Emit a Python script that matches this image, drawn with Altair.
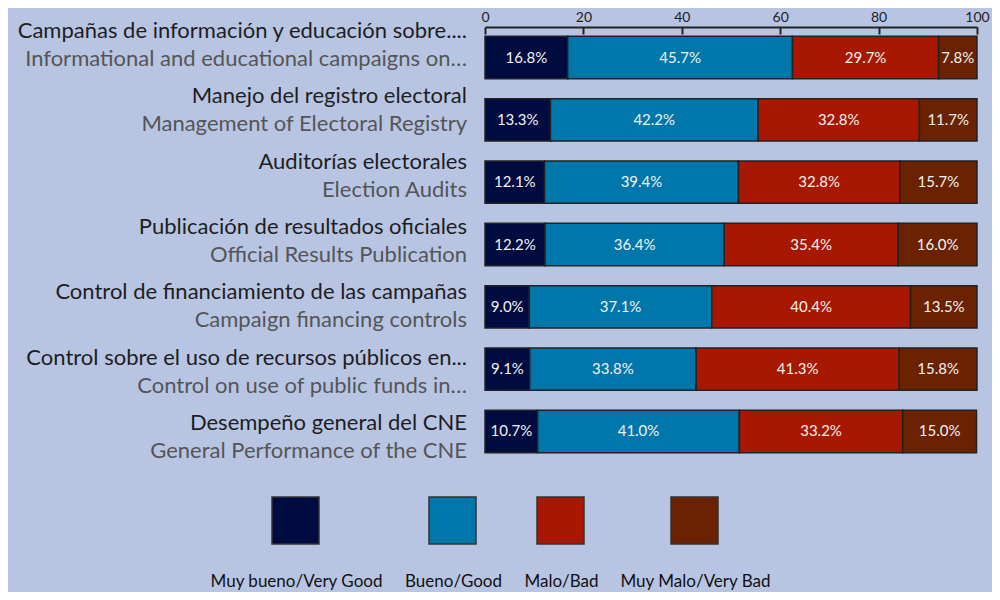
import altair as alt
import pandas as pd

questions_es = [
    "Campañas de información y educación sobre....",
    "Manejo del registro electoral",
    "Auditorías electorales",
    "Publicación de resultados oficiales",
    "Control de financiamiento de las campañas",
    "Control sobre el uso de recursos públicos en...",
    "Desempeño general del CNE",
]
questions_en = [
    "Informational and educational campaigns on…",
    "Management of Electoral Registry",
    "Election Audits",
    "Official Results Publication",
    "Campaign financing controls",
    "Control on use of public funds in…",
    "General Performance of the CNE",
]
categories = ["Muy bueno/Very Good", "Bueno/Good", "Malo/Bad", "Muy Malo/Very Bad"]
colors = ["#000b40", "#0077aa", "#a81800", "#6b2200"]

muy_bueno = [16.8, 13.3, 12.1, 12.2, 9.0, 9.1, 10.7]
bueno = [45.7, 42.2, 39.4, 36.4, 37.1, 33.8, 41.0]
malo = [29.7, 32.8, 32.8, 35.4, 40.4, 41.3, 33.2]
muy_malo = [7.8, 11.7, 15.7, 16.0, 13.5, 15.8, 15.0]

x_ticks = [0, 20, 40, 60, 80, 100]

# second key set (prefixed) so that the label legend is not merged with the swatch legend
categories_lbl = ["#" + c for c in categories]

series = [muy_bueno, bueno, malo, muy_malo]
rows = []
for qi, (qes, qen) in enumerate(zip(questions_es, questions_en)):
    for k, (cat, vals) in enumerate(zip(categories, series)):
        rows.append({"q": qes, "en": qen, "cat": cat, "cat2": "#" + cat, "k": k,
                     "value": vals[qi]})
df = pd.DataFrame(rows)

labels_df = pd.DataFrame({"q": questions_es, "en": questions_en})

FONT = "Lato"
LEG_FS = 17

base = alt.Chart(df).transform_stack(
    stack="value", groupby=["q"], as_=["x0", "x1"],
    sort=[alt.SortField("k", order="ascending")],
).transform_calculate(
    mid="(datum.x0 + datum.x1) / 2",
    lab="format(datum.value, '.1f') + '%'",
)

xscale = alt.Scale(domain=[0, 100], nice=False)
yband = alt.Y("q:N", sort=questions_es,
              scale=alt.Scale(paddingInner=0.32, paddingOuter=0.15),
              axis=alt.Axis(title=None, labels=False, ticks=False, domain=True,
                            domainColor="#222222", domainWidth=2))

common_leg = dict(orient="none", direction="horizontal", title=None,
                  symbolType="square", symbolSize=2209, symbolStrokeWidth=1.5,
                  labelAlign="center", labelOffset={"expr": "-23.5"},
                  labelBaseline="middle", labelFont=FONT, labelFontSize=LEG_FS,
                  labelColor="#111111", labelLimit=400, columnPadding=21, padding=0,
                  legendX=-214)

# bars + legend swatches (labels of this legend kept invisible, only for spacing)
bars = base.mark_bar(stroke="#222222", strokeWidth=1.5).encode(
    x=alt.X("x0:Q", scale=xscale,
            axis=alt.Axis(orient="top", values=x_ticks, title=None, ticks=False,
                          domain=True, domainColor="#222222", domainWidth=2,
                          labelFont=FONT, labelFontSize=14, labelColor="#222222",
                          labelPadding=3, labelFlush=False, grid=False)),
    x2="x1:Q",
    y=yband,
    fill=alt.Fill("cat:N", scale=alt.Scale(domain=categories, range=colors),
                  legend=alt.Legend(legendY=469, symbolStrokeColor="#333333",
                                    symbolOpacity=1, labelOpacity=0, **common_leg)),
)

# invisible layer whose legend carries the legend labels below the swatches
legend_labels = base.mark_bar(opacity=0).encode(
    x=alt.X("x0:Q", scale=xscale, axis=None),
    x2="x1:Q",
    y=alt.Y("q:N", sort=questions_es, axis=None),
    stroke=alt.Stroke("cat2:N", scale=alt.Scale(domain=categories_lbl, range=colors),
                      legend=alt.Legend(legendY=530, symbolOpacity=0,
                                        symbolStrokeColor="transparent",
                                        labelExpr="substring(datum.label, 1)",
                                        labelOpacity=1, **common_leg)),
)

values = base.mark_text(color="#f2f2f2", font=FONT, fontSize=15).encode(
    x=alt.X("mid:Q", scale=xscale,
            axis=alt.Axis(orient="top", values=x_ticks, title=None, labels=False,
                          domain=False, ticks=True, tickSize=7, tickWidth=2,
                          tickColor="#222222", offset=-7, grid=False)),
    y=alt.Y("q:N", sort=questions_es, axis=None),
    text=alt.Text("lab:N"),
)

inner = alt.layer(bars, legend_labels, values).resolve_axis(x="independent")

ylab = alt.Y("q:N", sort=questions_es,
             scale=alt.Scale(type="point", range=[11, 403], padding=0), axis=None)

lab_es = alt.Chart(labels_df).mark_text(
    align="right", baseline="alphabetic", font=FONT, fontSize=22, color="#1e1e1e"
).encode(x=alt.value(-18), y=ylab, text="q:N")

lab_en = alt.Chart(labels_df).mark_text(
    align="right", baseline="alphabetic", font=FONT, fontSize=22, color="#555555", dy=28
).encode(x=alt.value(-18), y=ylab, text="en:N")

chart = alt.layer(inner, lab_es, lab_en).resolve_scale(y="independent").properties(
    width=492, height=435,
    autosize=alt.AutoSizeParams(type="none"),
    padding={"left": 477, "top": 19, "right": 15, "bottom": 130},
    background="#b7c5e3",
).configure_view(stroke=None)

chart.save("out.html", embed_options={"renderer": "svg", "actions": False})
